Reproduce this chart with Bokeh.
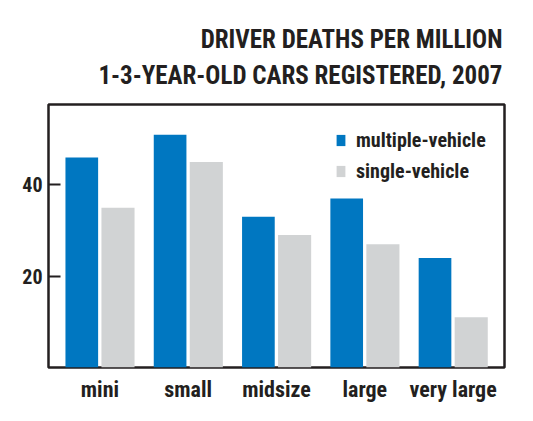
from bokeh.plotting import figure
from bokeh.models import ColumnDataSource, FactorRange, Range1d, FixedTicker, Title, Legend, LegendItem
from bokeh.transform import dodge
from bokeh.embed import file_html
from bokeh.resources import INLINE

categories = ["mini", "small", "midsize", "large", "very large"]
multiple_vehicle = [46, 51, 33, 37, 24]
single_vehicle = [35, 45, 29, 27, 11]
y_ticks = [20, 40]
title_line1 = "DRIVER DEATHS PER MILLION"
title_line2 = "1-3-YEAR-OLD CARS REGISTERED, 2007"

FONT = "Roboto Condensed"
INK = "#231f20"
BLUE = "#0077c1"
GREY = "#d1d3d4"

source = ColumnDataSource(dict(cat=categories, multi=multiple_vehicle, single=single_vehicle))

p = figure(
    width=525, height=413,
    x_range=FactorRange(factors=categories, range_padding=0.0328, range_padding_units="percent"),
    y_range=Range1d(0, 57.6),
    output_backend="svg", toolbar_location=None, title=None,
    min_border_left=48, min_border_right=21, min_border_top=104, min_border_bottom=46,
)

r1 = p.vbar(x=dodge("cat", -0.205, range=p.x_range), top="multi", width=0.37, source=source,
            fill_color=BLUE, line_color=None)
r2 = p.vbar(x=dodge("cat", 0.205, range=p.x_range), top="single", width=0.375, source=source,
            fill_color=GREY, line_color=None)

# spacer between frame and heading, then the two heading lines (inner to outer)
p.add_layout(Title(text=" ", text_font_size="1px", standoff=7), "above")
p.add_layout(Title(text=title_line2, align="right", text_font=FONT, text_font_size="25px",
                   text_font_style="bold", text_color=INK, standoff=9, offset=2), "above")
p.add_layout(Title(text=title_line1, align="right", text_font=FONT, text_font_size="25px",
                   text_font_style="bold", text_color=INK, standoff=2, offset=2), "above")

p.xgrid.visible = False
p.ygrid.visible = False
p.background_fill_color = "white"
p.border_fill_color = "white"
p.outline_line_color = INK
p.outline_line_width = 2.5

p.yaxis.ticker = FixedTicker(ticks=y_ticks)
p.yaxis.axis_line_color = None
p.yaxis.major_tick_in = 12
p.yaxis.major_tick_out = 0
p.yaxis.major_tick_line_color = INK
p.yaxis.major_tick_line_width = 2
p.yaxis.minor_tick_line_color = None
p.yaxis.major_label_text_font = FONT
p.yaxis.major_label_text_font_size = "20px"
p.yaxis.major_label_text_font_style = "bold"
p.yaxis.major_label_text_color = INK
p.yaxis.major_label_standoff = 6

p.xaxis.axis_line_color = None
p.xaxis.major_tick_line_color = None
p.xaxis.minor_tick_line_color = None
p.xaxis.major_label_text_font = FONT
p.xaxis.major_label_text_font_size = "22px"
p.xaxis.major_label_text_font_style = "bold"
p.xaxis.major_label_text_color = INK
p.xaxis.major_label_standoff = 3

legend = Legend(
    items=[LegendItem(label="multiple-vehicle", renderers=[r1]),
           LegendItem(label="single-vehicle", renderers=[r2])],
    location=(287, 184), orientation="vertical",
    glyph_width=11, glyph_height=14, label_standoff=10, spacing=7,
    label_height=20, padding=0, margin=0,
    border_line_color=None, background_fill_alpha=0,
    label_text_font=FONT, label_text_font_size="20px", label_text_font_style="bold",
    label_text_color=INK,
)
p.add_layout(legend, "center")

open("out.html", "w").write(file_html(p, INLINE))
